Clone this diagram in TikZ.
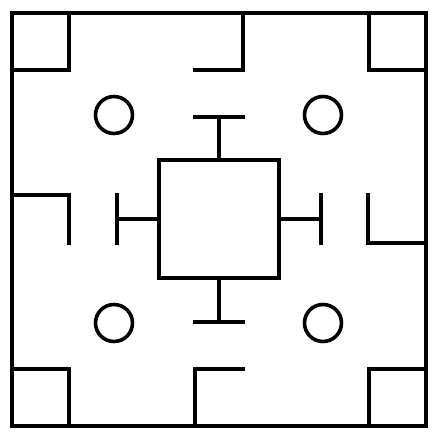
\documentclass[tikz,border=0pt]{standalone}
\begin{document}
\begin{tikzpicture}[x=1pt,y=-1pt,
  wall/.style={line width=4pt, line join=miter},
  ring/.style={line width=3.6pt}]
\useasboundingbox[fill=white] (0,0) rectangle (440,438);
% outer frame
\draw[wall] (12,13) rectangle (426,426);
% corner squares
\draw[wall] (12,70) -| (69,13);
\draw[wall] (369,13) |- (426,70);
\draw[wall] (12,369) -| (69,426);
\draw[wall] (369,426) |- (426,369);
% central square
\draw[wall] (159,160) rectangle (279,278);
% T bars
\draw[wall] (193,117) -- (245,117);
\draw[wall] (219,117) -- (219,160);
\draw[wall] (193,322) -- (245,322);
\draw[wall] (219,322) -- (219,278);
\draw[wall] (117,193) -- (117,245);
\draw[wall] (117,219) -- (159,219);
\draw[wall] (321,193) -- (321,245);
\draw[wall] (321,219) -- (279,219);
% L walls
\draw[wall] (243,13) |- (193,70);
\draw[wall] (195,426) |- (245,369);
\draw[wall] (12,195) -| (69,245);
\draw[wall] (426,243) -| (368,193);
% circles
\draw[ring] (114,115) circle[radius=18.5pt];
\draw[ring] (323,115) circle[radius=18.5pt];
\draw[ring] (114,323) circle[radius=18.5pt];
\draw[ring] (323,323) circle[radius=18.5pt];
\end{tikzpicture}
\end{document}
